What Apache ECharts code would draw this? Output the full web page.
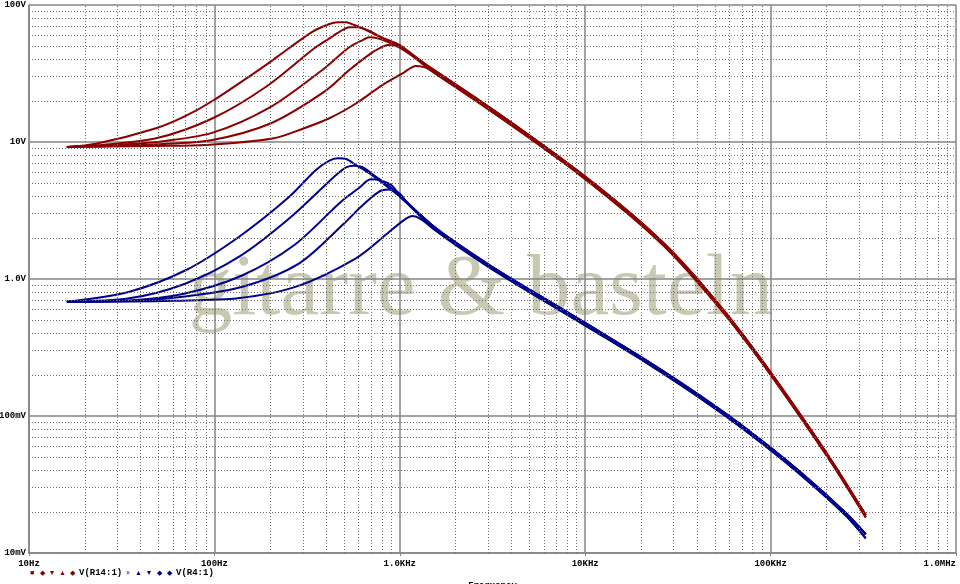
<!DOCTYPE html>
<html><head><meta charset="utf-8">
<script src="https://cdn.jsdelivr.net/npm/echarts@6/dist/echarts.min.js"></script>
<style>html,body{margin:0;padding:0;background:#fff}#c{width:960px;height:584px}</style>
</head><body><div id="c"></div>
<script>
// ---- data: [frequency Hz, voltage V] ----
const xTickLabels = ['10Hz', '100Hz', '1.0KHz', '10KHz', '100KHz', '1.0MHz'];
const yTickLabels = ['10mV', '100mV', '1.0V', '10V', '100V'];
const seriesNames = ['V(R14:1)', 'V(R4:1)'];
const redMarks = ['\u25A0', '\u25C6', '\u25BC', '\u25B2', '\u25C6'];
const blueMarks = ['\u00D7', '\u25B2', '\u25BC', '\u25C6', '\u25C6'];

const red1 = [[16, 9.2], [23, 9.7], [48.5, 12.6], [70, 15.5], [98, 20.0], [182, 35.1], [248, 47.5], [339, 63.9], [417, 72.6], [462, 74.8], [513, 74.8], [568, 71.4], [630, 67.6], [713, 62.1], [843, 56.2], [994, 51.1]];
const red2 = [[16, 9.2], [23, 9.45], [48.5, 10.64], [98, 14.9], [190, 25.3], [346, 48.3], [417, 57.1], [492, 65.7], [534, 68.8], [592, 68.8], [699, 63.9], [808, 57.1], [994, 49.6]];
const red3 = [[16, 9.2], [23, 9.35], [48.5, 10.0], [98, 11.7], [198, 17.8], [376, 33.0], [534, 49.1], [630, 55.5], [685, 58.1], [759, 57.1], [897, 52.5], [994, 49.0]];
const red4 = [[16, 9.2], [23, 9.3], [48.5, 9.62], [96, 10.3], [202, 13.7], [392, 23.3], [534, 33.5], [699, 44.4], [808, 49.6], [860, 51.1], [934, 50.5], [1035, 48.3]];
const red5 = [[16, 9.2], [23, 9.25], [48.5, 9.35], [90, 9.51], [206, 10.6], [300, 12.5], [417, 14.9], [580, 19.1], [808, 26.1], [1035, 31.7], [1223, 35.9]];
const redTailA = [[1442, 35.3], [2469, 21.7], [4789, 11.63], [9284, 6.04], [17990, 2.93], [29560, 1.574], [50650, 0.691], [83220, 0.2933], [136700, 0.1144], [215400, 0.0462], [326000, 0.0189]];
const redTailB = [[1442, 33.9], [2469, 20.8], [4789, 11.15], [9284, 5.80], [17990, 2.81], [29560, 1.51], [50650, 0.663], [83220, 0.2815], [136700, 0.1098], [215400, 0.0444], [326000, 0.0182]];

const blue1 = [[16, 0.683], [34.8, 0.808], [70.4, 1.163], [136, 2.036], [248, 3.88], [353, 6.25], [417, 7.30], [462, 7.60], [513, 7.51], [580, 6.79], [685, 5.91], [878, 4.59], [1000, 4.0]];
const blue2 = [[16, 0.683], [34.8, 0.723], [68.9, 0.919], [136, 1.455], [254, 2.774], [453, 5.74], [513, 6.54], [568, 6.71], [630, 6.54], [744, 5.58], [934, 4.45], [1000, 4.0]];
const blue3 = [[16, 0.683], [34.8, 0.697], [67.5, 0.777], [139, 1.052], [270, 1.771], [482, 3.67], [600, 4.6], [699, 5.34], [775, 5.28], [897, 4.86], [1000, 4.1]];
const blue4 = [[16, 0.683], [34.8, 0.69], [67.5, 0.743], [142, 0.879], [287, 1.302], [502, 2.55], [630, 3.45], [808, 4.46], [878, 4.5], [994, 4.22], [1125, 3.45]];
const blue5 = [[16, 0.683], [34.8, 0.686], [59.6, 0.694], [133.6, 0.723], [276, 0.879], [580, 1.416], [850, 2.13], [1057, 2.70], [1172, 2.88], [1300, 2.74]];
const blueTailA = [[1567, 2.345], [3038, 1.265], [5887, 0.733], [10950, 0.443], [21240, 0.256], [41170, 0.142], [76580, 0.0777], [142400, 0.0397], [254400, 0.0196], [326000, 0.0137]];
const blueTailB = [[1567, 2.25], [3038, 1.215], [5887, 0.704], [10950, 0.425], [21240, 0.246], [41170, 0.1365], [76580, 0.0746], [142400, 0.0381], [254400, 0.0188], [326000, 0.0128]];

// ---- chart ----
const RED = '#8b0000', BLUE = '#00008b';
const MONO = '"Liberation Mono", "DejaVu Sans Mono", monospace';
const curves = [
  [red1, redTailA, RED, 0], [red2, redTailA, RED, 0], [red3, redTailA, RED, 0], [red4, redTailB, RED, 0], [red5, redTailB, RED, 0],
  [blue1, blueTailA, BLUE, 1], [blue2, blueTailA, BLUE, 1], [blue3, blueTailA, BLUE, 1], [blue4, blueTailB, BLUE, 1], [blue5, blueTailB, BLUE, 1]
];

const minorX = [], minorY = [];
[10, 100, 1000, 10000, 100000].forEach(d => { for (let m = 2; m <= 9; m++) minorX.push({ xAxis: m * d }); });
[0.01, 0.1, 1, 10].forEach(d => { for (let m = 2; m <= 9; m++) minorY.push({ yAxis: +(m * d).toPrecision(3) }); });

const series = [{
  type: 'line', data: [[10, 0.01]], symbol: 'none', lineStyle: { opacity: 0 }, z: 1, silent: true,
  markLine: {
    silent: true, symbol: ['none', 'none'], label: { show: false }, animation: false,
    lineStyle: { type: [1, 2], color: '#707070', width: 1 },
    data: minorX.concat(minorY)
  }
}];
curves.forEach(c => {
  series.push({
    type: 'line', name: seriesNames[c[3]], data: c[0].concat(c[1]),
    showSymbol: false, smooth: 0.3,
    lineStyle: { color: c[2], width: 2 }, itemStyle: { color: c[2] }, z: 3, silent: true
  });
});

const graphics = [{
  type: 'text', x: 481, y: 291, z: -10, silent: true,
  style: { text: 'gitarre & basteln', fontFamily: '"Liberation Serif", "DejaVu Serif", serif', fontSize: 87,
    fill: 'rgba(180,180,150,0.72)', align: 'center', verticalAlign: 'middle' }
}];
const redX = [32, 42, 52, 62.5, 72.5], blueX = [128, 138.5, 149, 159, 169];
redMarks.forEach((m, i) => graphics.push({ type: 'text', x: redX[i], y: 573, style: { text: m, fontSize: 7, fill: RED, align: 'center', verticalAlign: 'middle' } }));
blueMarks.forEach((m, i) => graphics.push({ type: 'text', x: blueX[i], y: 573, style: { text: m, fontSize: 7, fill: BLUE, align: 'center', verticalAlign: 'middle' } }));
graphics.push({ type: 'text', x: 79, y: 573, style: { text: seriesNames[0], fontFamily: MONO, fontSize: 9, fontWeight: 'bold', fill: '#000', verticalAlign: 'middle' } });
graphics.push({ type: 'text', x: 176, y: 573, style: { text: seriesNames[1], fontFamily: MONO, fontSize: 9, fontWeight: 'bold', fill: '#000', verticalAlign: 'middle' } });

const axisText = { fontFamily: MONO, fontSize: 9, fontWeight: 'bold', color: '#000' };
const chart = echarts.init(document.getElementById('c'), null, { renderer: 'canvas' });
chart.setOption({
  animation: false,
  backgroundColor: '#fff',
  grid: { left: 29, right: 4, top: 5, bottom: 31, containLabel: false, outerBoundsMode: 'none' },
  xAxis: {
    type: 'log', logBase: 10, min: 10, max: 1e6,
    name: 'Frequency', nameLocation: 'middle', nameGap: 28,
    nameTextStyle: axisText,
    axisLabel: Object.assign({ margin: 6, alignMaxLabel: 'right',
      formatter: v => xTickLabels[Math.round(Math.log10(v)) - 1] }, axisText),
    axisLine: { show: true, lineStyle: { color: '#858585', width: 1.5 } },
    axisTick: { show: true, length: 3, lineStyle: { color: '#858585' } },
    splitLine: { show: true, lineStyle: { color: '#858585', width: 1.5 } },
    minorTick: { show: false }, minorSplitLine: { show: false }
  },
  yAxis: {
    type: 'log', logBase: 10, min: 0.01, max: 100,
    axisLabel: Object.assign({ margin: 3,
      formatter: v => yTickLabels[Math.round(Math.log10(v)) + 2] }, axisText),
    axisLine: { show: true, lineStyle: { color: '#858585', width: 1.5 } },
    axisTick: { show: false },
    splitLine: { show: true, lineStyle: { color: '#858585', width: 1.5 } },
    minorTick: { show: false }, minorSplitLine: { show: false }
  },
  graphic: { elements: graphics },
  series: series
});
</script></body></html>
